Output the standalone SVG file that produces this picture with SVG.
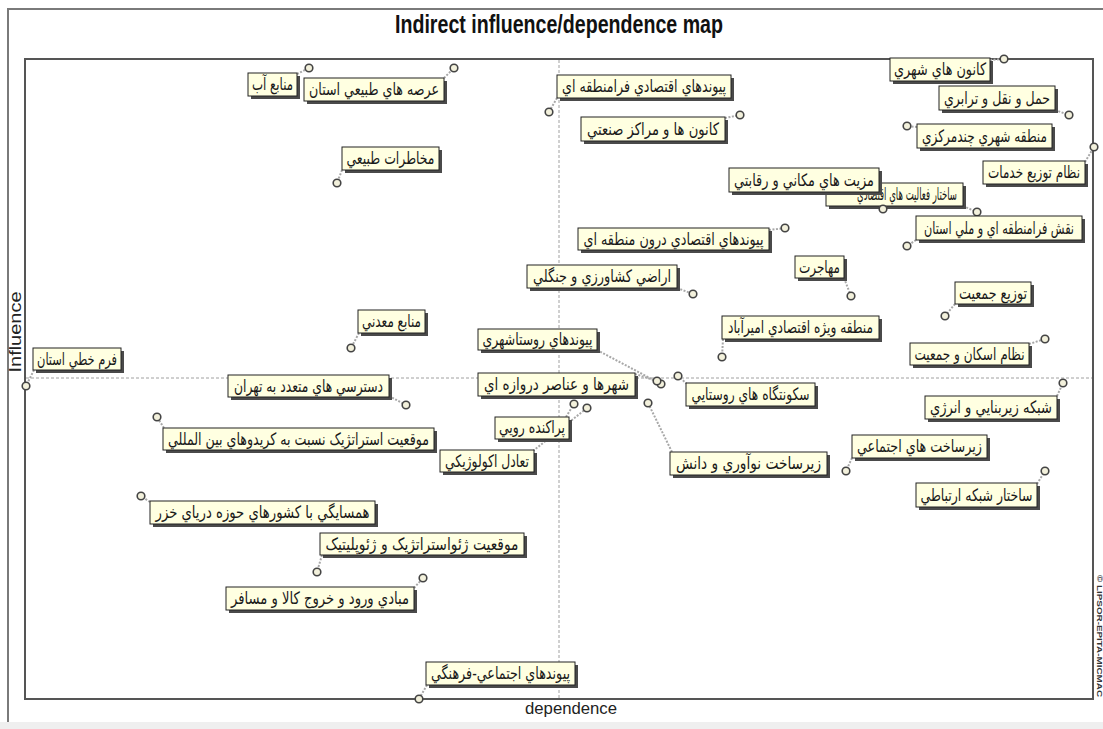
<svg xmlns="http://www.w3.org/2000/svg" width="1103" height="729" viewBox="0 0 1103 729">
<style>
.bg{fill:#ffffff}
.band{fill:#efefef}
.outer{fill:none;stroke:#7a7a7a;stroke-width:2}
.frame{fill:none;stroke:#555;stroke-width:2}
.axis{stroke:#a0a0a0;stroke-width:1;stroke-dasharray:3 2}
.title{font-family:'Liberation Sans',Arial,sans-serif;font-weight:bold;font-size:25px;fill:#111;text-anchor:middle}
.axlbl{font-family:'Liberation Sans',Arial,sans-serif;font-size:17px;fill:#222;text-anchor:middle}
.copy{font-family:'Liberation Sans',Arial,sans-serif;font-weight:bold;font-size:8px;fill:#333;text-anchor:middle}
.shd{fill:#4a4a4a}
.box{fill:#ffffe1;stroke:#222;stroke-width:1}
.lbl{font-family:'DejaVu Sans',sans-serif;font-size:17px;fill:#1a1a1a;text-anchor:middle;direction:rtl}
.pt{fill:#f3f1dc;stroke:#444;stroke-width:1.6}
.ldr{fill:none;stroke:#a8a8a8;stroke-width:2;stroke-dasharray:2 1.5}
</style>
<rect class="bg" x="0" y="0" width="1103" height="729"/>
<rect class="band" x="0" y="722" width="1103" height="7"/>
<path class="outer" d="M8,722 V9 H1103"/>
<text class="title" x="559" y="33" textLength="328" lengthAdjust="spacingAndGlyphs">Indirect influence/dependence map</text>
<rect class="frame" x="25" y="59" width="1068" height="640"/>
<line class="axis" x1="559" y1="60" x2="559" y2="698"/>
<line class="axis" x1="26" y1="378" x2="1092" y2="378"/>
<text class="axlbl" transform="translate(21,332) rotate(-90)" textLength="81" lengthAdjust="spacingAndGlyphs">Influence</text>
<text class="axlbl" x="571" y="714" textLength="92" lengthAdjust="spacingAndGlyphs">dependence</text>
<text class="copy" transform="translate(1097,636) rotate(90)" textLength="122" lengthAdjust="spacingAndGlyphs">© LIPSOR-EPITA-MICMAC</text>

<g id="connectors">
<line class="ldr" x1="297" y1="74" x2="309" y2="68"/>
<line class="ldr" x1="444" y1="78" x2="454" y2="68"/>
<line class="ldr" x1="342" y1="170" x2="337" y2="183"/>
<line class="ldr" x1="557" y1="98" x2="549" y2="112"/>
<line class="ldr" x1="725" y1="118" x2="740" y2="115"/>
<line class="ldr" x1="990" y1="60" x2="1004" y2="59"/>
<line class="ldr" x1="1055" y1="110" x2="1069" y2="115"/>
<line class="ldr" x1="917" y1="127" x2="907" y2="126"/>
<line class="ldr" x1="1085" y1="162" x2="1094" y2="147"/>
<line class="ldr" x1="963" y1="206" x2="977" y2="212"/>
<line class="ldr" x1="879" y1="192" x2="883" y2="209"/>
<line class="ldr" x1="916" y1="240" x2="907" y2="246"/>
<line class="ldr" x1="769" y1="230" x2="785" y2="228"/>
<line class="ldr" x1="677" y1="288" x2="693" y2="294"/>
<line class="ldr" x1="844" y1="278" x2="851" y2="296"/>
<line class="ldr" x1="723" y1="339" x2="722" y2="357"/>
<line class="ldr" x1="955" y1="304" x2="945" y2="316"/>
<line class="ldr" x1="1029" y1="344" x2="1045" y2="339"/>
<line class="ldr" x1="34" y1="370" x2="26" y2="386"/>
<line class="ldr" x1="359" y1="333" x2="351" y2="348"/>
<line class="ldr" x1="389" y1="396" x2="406" y2="405"/>
<line class="ldr" x1="164" y1="428" x2="157" y2="417"/>
<line class="ldr" x1="597" y1="350" x2="661" y2="384"/>
<line class="ldr" x1="635" y1="374" x2="657" y2="381"/>
<line class="ldr" x1="687" y1="384" x2="678" y2="376"/>
<line class="ldr" x1="672" y1="452" x2="648" y2="403"/>
<line class="ldr" x1="566" y1="417" x2="574" y2="404"/>
<line class="ldr" x1="533" y1="451" x2="587" y2="408"/>
<line class="ldr" x1="852" y1="458" x2="846" y2="471"/>
<line class="ldr" x1="1057" y1="396" x2="1063" y2="383"/>
<line class="ldr" x1="1037" y1="484" x2="1045" y2="471"/>
<line class="ldr" x1="150" y1="502" x2="141" y2="496"/>
<line class="ldr" x1="322" y1="555" x2="317" y2="572"/>
<line class="ldr" x1="414" y1="588" x2="423" y2="578"/>
<line class="ldr" x1="427" y1="685" x2="419" y2="699"/>
</g>

<g id="n1"><rect class="shd" x="251" y="76" width="49" height="23"/><rect class="box" x="248" y="73" width="49" height="23"/><text class="lbl" x="272.5" y="90" textLength="41" lengthAdjust="spacingAndGlyphs">منابع آب</text><circle class="pt" cx="309" cy="68" r="3.8"/></g>
<g id="n2"><rect class="shd" x="307" y="81" width="140" height="23"/><rect class="box" x="304" y="78" width="140" height="23"/><text class="lbl" x="374" y="95" textLength="130" lengthAdjust="spacingAndGlyphs">عرصه هاي طبيعي استان</text><circle class="pt" cx="454" cy="68" r="3.8"/></g>
<g id="n3"><rect class="shd" x="345" y="150" width="97" height="23"/><rect class="box" x="342" y="147" width="97" height="23"/><text class="lbl" x="390.5" y="164" textLength="88" lengthAdjust="spacingAndGlyphs">مخاطرات طبيعي</text><circle class="pt" cx="337" cy="183" r="3.8"/></g>
<g id="n4"><rect class="shd" x="560" y="78" width="174" height="23"/><rect class="box" x="557" y="75" width="174" height="23"/><text class="lbl" x="644" y="92" textLength="164" lengthAdjust="spacingAndGlyphs">پيوندهاي اقتصادي فرامنطقه اي</text><circle class="pt" cx="549" cy="112" r="3.8"/></g>
<g id="n5"><rect class="shd" x="584" y="120" width="144" height="24"/><rect class="box" x="581" y="117" width="144" height="24"/><text class="lbl" x="653" y="135" textLength="132" lengthAdjust="spacingAndGlyphs">كانون ها و مراكز صنعتي</text><circle class="pt" cx="740" cy="115" r="3.8"/></g>
<g id="n6"><rect class="shd" x="893" y="61" width="100" height="23"/><rect class="box" x="890" y="58" width="100" height="23"/><text class="lbl" x="940" y="75" textLength="92" lengthAdjust="spacingAndGlyphs">كانون هاي شهري</text><circle class="pt" cx="1004" cy="59" r="3.8"/></g>
<g id="n7"><rect class="shd" x="942" y="89" width="116" height="24"/><rect class="box" x="939" y="86" width="116" height="24"/><text class="lbl" x="997" y="104" textLength="106" lengthAdjust="spacingAndGlyphs">حمل و نقل و ترابري</text><circle class="pt" cx="1069" cy="115" r="3.8"/></g>
<g id="n8"><rect class="shd" x="920" y="127" width="135" height="24"/><rect class="box" x="917" y="124" width="135" height="24"/><text class="lbl" x="984.5" y="142" textLength="125" lengthAdjust="spacingAndGlyphs">منطقه شهري چندمركزي</text><circle class="pt" cx="907" cy="126" r="3.8"/></g>
<g id="n9"><rect class="shd" x="986" y="164" width="102" height="23"/><rect class="box" x="983" y="161" width="102" height="23"/><text class="lbl" x="1034" y="178" textLength="92" lengthAdjust="spacingAndGlyphs">نظام توزيع خدمات</text><circle class="pt" cx="1094" cy="147" r="3.8"/></g>
<g id="n10"><rect class="shd" x="829" y="186" width="137" height="23"/><rect class="box" x="826" y="183" width="137" height="23"/><text class="lbl" x="907" y="200" textLength="100" lengthAdjust="spacingAndGlyphs">ساختار فعاليت هاي اقتصادي</text><circle class="pt" cx="977" cy="212" r="3.8"/></g>
<g id="n11"><rect class="shd" x="732" y="171" width="150" height="24"/><rect class="box" x="729" y="168" width="150" height="24"/><text class="lbl" x="804" y="186" textLength="140" lengthAdjust="spacingAndGlyphs">مزيت هاي مكاني و رقابتي</text><circle class="pt" cx="883" cy="209" r="3.8"/></g>
<g id="n12"><rect class="shd" x="919" y="219" width="166" height="24"/><rect class="box" x="916" y="216" width="166" height="24"/><text class="lbl" x="999" y="234" textLength="150" lengthAdjust="spacingAndGlyphs">نقش فرامنطقه اي و ملي استان</text><circle class="pt" cx="907" cy="246" r="3.8"/></g>
<g id="n13"><rect class="shd" x="581" y="231" width="191" height="22"/><rect class="box" x="578" y="228" width="191" height="22"/><text class="lbl" x="673.5" y="245" textLength="180" lengthAdjust="spacingAndGlyphs">پيوندهاي اقتصادي درون منطقه اي</text><circle class="pt" cx="785" cy="228" r="3.8"/></g>
<g id="n14"><rect class="shd" x="530" y="268" width="150" height="23"/><rect class="box" x="527" y="265" width="150" height="23"/><text class="lbl" x="602" y="282" textLength="138" lengthAdjust="spacingAndGlyphs">اراضي كشاورزي و جنگلي</text><circle class="pt" cx="693" cy="294" r="3.8"/></g>
<g id="n15"><rect class="shd" x="798" y="259" width="49" height="22"/><rect class="box" x="795" y="256" width="49" height="22"/><text class="lbl" x="819.5" y="273" textLength="41" lengthAdjust="spacingAndGlyphs">مهاجرت</text><circle class="pt" cx="851" cy="296" r="3.8"/></g>
<g id="n16"><rect class="shd" x="725" y="319" width="157" height="23"/><rect class="box" x="722" y="316" width="157" height="23"/><text class="lbl" x="800.5" y="333" textLength="145" lengthAdjust="spacingAndGlyphs">منطقه ويژه اقتصادي اميرآباد</text><circle class="pt" cx="722" cy="357" r="3.8"/></g>
<g id="n17"><rect class="shd" x="958" y="285" width="76" height="22"/><rect class="box" x="955" y="282" width="76" height="22"/><text class="lbl" x="993" y="299" textLength="68" lengthAdjust="spacingAndGlyphs">توزيع جمعيت</text><circle class="pt" cx="945" cy="316" r="3.8"/></g>
<g id="n18"><rect class="shd" x="913" y="346" width="119" height="22"/><rect class="box" x="910" y="343" width="119" height="22"/><text class="lbl" x="969.5" y="360" textLength="110" lengthAdjust="spacingAndGlyphs">نظام اسكان و جمعيت</text><circle class="pt" cx="1045" cy="339" r="3.8"/></g>
<g id="n19"><rect class="shd" x="36" y="351" width="88" height="22"/><rect class="box" x="33" y="348" width="88" height="22"/><text class="lbl" x="77" y="365" textLength="80" lengthAdjust="spacingAndGlyphs">فرم خطي استان</text><circle class="pt" cx="26" cy="386" r="3.8"/></g>
<g id="n20"><rect class="shd" x="361" y="313" width="67" height="23"/><rect class="box" x="358" y="310" width="67" height="23"/><text class="lbl" x="391.5" y="327" textLength="59" lengthAdjust="spacingAndGlyphs">منابع معدني</text><circle class="pt" cx="351" cy="348" r="3.8"/></g>
<g id="n21"><rect class="shd" x="231" y="378" width="161" height="22"/><rect class="box" x="228" y="375" width="161" height="22"/><text class="lbl" x="308.5" y="392" textLength="149" lengthAdjust="spacingAndGlyphs">دسترسي هاي متعدد به تهران</text><circle class="pt" cx="406" cy="405" r="3.8"/></g>
<g id="n22"><rect class="shd" x="166" y="431" width="271" height="22"/><rect class="box" x="163" y="428" width="271" height="22"/><text class="lbl" x="298.5" y="445" textLength="261" lengthAdjust="spacingAndGlyphs">موقعيت استراتژيک نسبت به كريدوهاي بين المللي</text><circle class="pt" cx="157" cy="417" r="3.8"/></g>
<g id="n23"><rect class="shd" x="481" y="332" width="119" height="21"/><rect class="box" x="478" y="329" width="119" height="21"/><text class="lbl" x="537.5" y="345" textLength="110" lengthAdjust="spacingAndGlyphs">پيوندهاي روستاشهري</text><circle class="pt" cx="661" cy="384" r="3.8"/></g>
<g id="n24"><rect class="shd" x="481" y="376" width="157" height="23"/><rect class="box" x="478" y="373" width="157" height="23"/><text class="lbl" x="556.5" y="390" textLength="145" lengthAdjust="spacingAndGlyphs">شهرها و عناصر دروازه اي</text><circle class="pt" cx="657" cy="381" r="3.8"/></g>
<g id="n25"><rect class="shd" x="689" y="386" width="129" height="23"/><rect class="box" x="686" y="383" width="129" height="23"/><text class="lbl" x="750.5" y="400" textLength="118" lengthAdjust="spacingAndGlyphs">سكونتگاه هاي روستايي</text><circle class="pt" cx="678" cy="376" r="3.8"/></g>
<g id="n26"><rect class="shd" x="673" y="455" width="157" height="23"/><rect class="box" x="670" y="452" width="157" height="23"/><text class="lbl" x="748.5" y="469" textLength="145" lengthAdjust="spacingAndGlyphs">زيرساخت نوآوري و دانش</text><circle class="pt" cx="648" cy="403" r="3.8"/></g>
<g id="n27"><rect class="shd" x="498" y="420" width="74" height="22"/><rect class="box" x="495" y="417" width="74" height="22"/><text class="lbl" x="532" y="433" textLength="66" lengthAdjust="spacingAndGlyphs">پراكنده رويي</text><circle class="pt" cx="574" cy="404" r="3.8"/></g>
<g id="n28"><rect class="shd" x="443" y="453" width="94" height="22"/><rect class="box" x="440" y="450" width="94" height="22"/><text class="lbl" x="487" y="467" textLength="84" lengthAdjust="spacingAndGlyphs">تعادل اكولوژيكي</text><circle class="pt" cx="587" cy="408" r="3.8"/></g>
<g id="n29"><rect class="shd" x="855" y="438" width="135" height="23"/><rect class="box" x="852" y="435" width="135" height="23"/><text class="lbl" x="919.5" y="452" textLength="125" lengthAdjust="spacingAndGlyphs">زيرساخت هاي اجتماعي</text><circle class="pt" cx="846" cy="471" r="3.8"/></g>
<g id="n30"><rect class="shd" x="928" y="399" width="132" height="23"/><rect class="box" x="925" y="396" width="132" height="23"/><text class="lbl" x="991" y="413" textLength="122" lengthAdjust="spacingAndGlyphs">شبكه زيربنايي و انرژي</text><circle class="pt" cx="1063" cy="383" r="3.8"/></g>
<g id="n31"><rect class="shd" x="919" y="486" width="121" height="24"/><rect class="box" x="916" y="483" width="121" height="24"/><text class="lbl" x="976.5" y="501" textLength="112" lengthAdjust="spacingAndGlyphs">ساختار شبكه ارتباطي</text><circle class="pt" cx="1045" cy="471" r="3.8"/></g>
<g id="n32"><rect class="shd" x="153" y="504" width="225" height="23"/><rect class="box" x="150" y="501" width="225" height="23"/><text class="lbl" x="262.5" y="518" textLength="214" lengthAdjust="spacingAndGlyphs">همسايگي با كشورهاي حوزه درياي خزر</text><circle class="pt" cx="141" cy="496" r="3.8"/></g>
<g id="n33"><rect class="shd" x="323" y="536" width="204" height="22"/><rect class="box" x="320" y="533" width="204" height="22"/><text class="lbl" x="422" y="550" textLength="193" lengthAdjust="spacingAndGlyphs">موقعيت ژئواستراتژيک و ژئوپليتيک</text><circle class="pt" cx="317" cy="572" r="3.8"/></g>
<g id="n34"><rect class="shd" x="229" y="590" width="188" height="23"/><rect class="box" x="226" y="587" width="188" height="23"/><text class="lbl" x="320" y="604" textLength="178" lengthAdjust="spacingAndGlyphs">مبادي ورود و خروج كالا و مسافر</text><circle class="pt" cx="423" cy="578" r="3.8"/></g>
<g id="n35"><rect class="shd" x="429" y="665" width="149" height="23"/><rect class="box" x="426" y="662" width="149" height="23"/><text class="lbl" x="500.5" y="679" textLength="139" lengthAdjust="spacingAndGlyphs">پيوندهاي اجتماعي-فرهنگي</text><circle class="pt" cx="419" cy="699" r="3.8"/></g>
</svg>
